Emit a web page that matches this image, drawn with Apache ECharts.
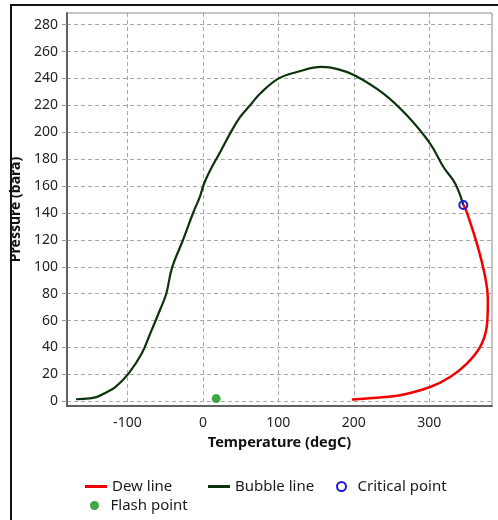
<!DOCTYPE html>
<html>
<head>
<meta charset="utf-8">
<script src="https://cdn.jsdelivr.net/npm/echarts@6/dist/echarts.min.js"></script>
<style>
  html, body { margin: 0; padding: 0; background: #ffffff; }
  #chart { width: 498px; height: 520px; }
</style>
</head>
<body>
<div id="chart"></div>
<script>
// ---- data ----
const bubbleT = [-168, -150, -140, -130, -116, -98.5, -81, -70, -57, -48.5, -41, -27, -13, -4, 1, 8, 23, 36, 49.4, 62.6, 75.9, 100, 124.5, 157.6, 179.6, 200.8, 239.2, 270.2, 301, 318.7, 334.2, 345];
const bubbleP = [1.5, 2.2, 3.3, 6, 10.6, 20.6, 35.5, 50, 67.7, 80, 99, 119, 140, 152, 161, 170, 185.4, 199, 211.4, 220.1, 228.8, 239.9, 244.8, 248.6, 246.8, 242.4, 228.8, 212.6, 191.6, 174.2, 161.9, 146];
const dewT = [345, 348.7, 363, 374, 377.5, 376, 367.3, 349.7, 327.5, 301, 261.3, 230.5, 197.4];
const dewP = [146, 142, 117.2, 92.4, 75.1, 55.2, 40.4, 28, 18.1, 10.6, 4.5, 2.7, 1.3];
const criticalPoint = [345, 146];
const flashPoint = [17.6, 2.0];
const xTicks = [-100, 0, 100, 200, 300];
const yTicks = [0, 20, 40, 60, 80, 100, 120, 140, 160, 180, 200, 220, 240, 260, 280];
const seriesNames = ['Dew line', 'Bubble line', 'Critical point', 'Flash point'];

const zip = (a, b) => a.map((v, i) => [v, b[i]]);

const FONT = 'Noto Sans';
const RED = '#f20000';
const DKGREEN = '#0d330d';
const BLUE = '#1a1ad8';
const GREEN = '#119111';
const LINE_ICON = 'path://M0,0 L22,0 L22,3 L0,3 Z';

const legendText = { fontFamily: FONT, fontSize: 15, color: '#1a1a1a' };
function legendItem(item, left, top) {
  return {
    data: [item], left: left, top: top, padding: 0,
    itemWidth: 22, itemHeight: 9, itemGap: 0,
    textStyle: legendText
  };
}

const chart = echarts.init(document.getElementById('chart'), null, { renderer: 'canvas' });

const option = {
  backgroundColor: '#ffffff',
  animation: false,
  textStyle: { fontFamily: FONT },
  graphic: [
    { type: 'line', shape: { x1: 10, y1: 5, x2: 498, y2: 5 }, style: { stroke: '#111', lineWidth: 2 } },
    { type: 'line', shape: { x1: 11, y1: 5, x2: 11, y2: 520 }, style: { stroke: '#111', lineWidth: 2 } }
  ],
  grid: {
    left: 67, top: 13, right: 6, bottom: 114,
    show: true, borderColor: '#8a8a8a', borderWidth: 1, backgroundColor: '#ffffff'
  },
  legend: [
    legendItem({ name: seriesNames[0], icon: LINE_ICON, itemStyle: { color: RED, borderWidth: 0 } }, 85, 479),
    legendItem({ name: seriesNames[1], icon: LINE_ICON, itemStyle: { color: DKGREEN, borderWidth: 0 } }, 208, 479),
    legendItem({ name: seriesNames[2], icon: 'circle', itemStyle: { color: '#ffffff', borderColor: BLUE, borderWidth: 2 } }, 336, 479),
    legendItem({ name: seriesNames[3], icon: 'circle', itemStyle: { color: GREEN } }, 90, 498)
  ],
  xAxis: {
    type: 'value',
    min: -180, max: 383,
    name: 'Temperature (degC)',
    nameLocation: 'middle', nameGap: 29,
    nameTextStyle: { fontFamily: FONT, fontSize: 14.5, fontWeight: 'bold', color: '#111' },
    axisLine: { show: true, onZero: false, lineStyle: { color: '#606060', width: 2 } },
    axisTick: { show: false, customValues: xTicks },
    axisLabel: { customValues: xTicks, fontSize: 14, color: '#222', margin: 10 },
    splitLine: { show: true, lineStyle: { color: '#a8a8a8', type: [4, 3], width: 1 } }
  },
  yAxis: {
    type: 'value',
    min: -3.5, max: 288.7,
    name: 'Pressure (bara)',
    nameLocation: 'middle', nameGap: 40, nameRotate: 90,
    nameTextStyle: { fontFamily: FONT, fontSize: 14, fontWeight: 'bold', color: '#111' },
    axisLine: { show: true, onZero: false, lineStyle: { color: '#606060', width: 2 } },
    axisTick: { show: true, length: 5, customValues: yTicks, lineStyle: { color: '#999' } },
    axisLabel: { customValues: yTicks, fontSize: 14, color: '#222', margin: 9 },
    splitLine: { show: true, lineStyle: { color: '#a8a8a8', type: [4, 3], width: 1 } }
  },
  series: [
    {
      name: seriesNames[0], type: 'line', data: zip(dewT, dewP),
      symbol: 'none', smooth: 0.3, color: RED,
      lineStyle: { color: RED, width: 2.5 }, z: 3
    },
    {
      name: seriesNames[1], type: 'line', data: zip(bubbleT, bubbleP),
      symbol: 'none', smooth: 0.4, color: DKGREEN,
      lineStyle: { color: DKGREEN, width: 2.2 }, z: 3
    },
    {
      name: seriesNames[2], type: 'scatter', data: [criticalPoint],
      symbol: 'circle', symbolSize: 8, color: BLUE,
      itemStyle: { color: 'rgba(255,255,255,0)', borderColor: BLUE, borderWidth: 2, opacity: 1 }, z: 10
    },
    {
      name: seriesNames[3], type: 'scatter', data: [flashPoint],
      symbol: 'circle', symbolSize: 9, color: GREEN,
      itemStyle: { color: GREEN }, z: 10
    }
  ]
};
chart.setOption(option);
</script>
</body>
</html>
